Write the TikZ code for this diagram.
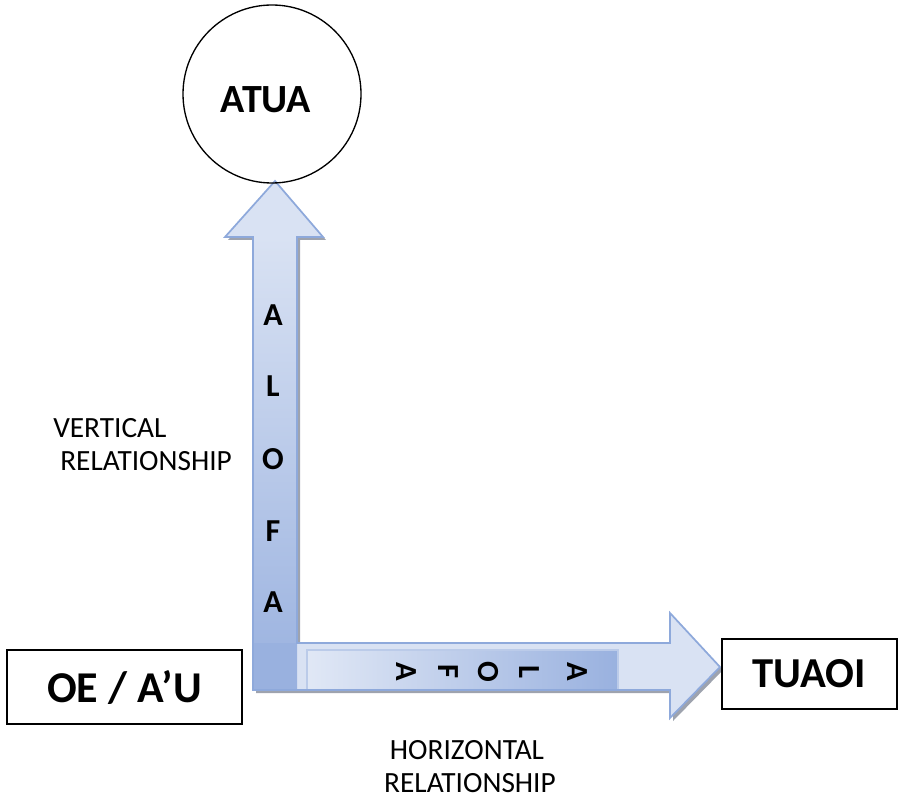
\documentclass[tikz,border=0pt]{standalone}
\usepackage{fontspec}
\setmainfont{Carlito}
\definecolor{arrowfill}{HTML}{D9E2F3}
\definecolor{arrowline}{HTML}{8EA9DB}
\definecolor{arrowdark}{HTML}{99B1DF}
\definecolor{shadowgray}{HTML}{9EA3AE}
\begin{document}
\begin{tikzpicture}[x=0.75pt,y=-0.75pt,
  reltext/.style={font=\fontsize{22}{26}\selectfont, inner sep=0pt, anchor=base west},
  vletter/.style={font=\bfseries\fontsize{24}{28}\selectfont, inner sep=0pt},
  hletter/.style={font=\bfseries\fontsize{23}{27}\selectfont, inner sep=0pt, rotate=-90},
  boxnode/.style={draw=black, line width=1.2pt, inner sep=0pt}]
\useasboundingbox (0,0) rectangle (902,798);
% shadow
\fill[shadowgray, shift={(3,3)}] (275,181) -- (323,237) -- (297,237) -- (297,643) -- (670,643) -- (670,613) -- (720,667) -- (670,718) -- (670,690) -- (253,690) -- (253,237) -- (225,237) -- cycle;
% arrow body
\fill[arrowfill] (275,181) -- (323,237) -- (297,237) -- (297,643) -- (670,643) -- (670,613) -- (720,667) -- (670,718) -- (670,690) -- (253,690) -- (253,237) -- (225,237) -- cycle;
% vertical shaft gradient
\shade[top color=arrowfill, bottom color=arrowdark] (253,237) rectangle (297,690);
% corner
\fill[arrowdark] (253,643) rectangle (297,690);
% inner rectangle on horizontal shaft
\shade[left color=arrowfill!80!white, right color=arrowdark, draw=arrowline!60!white, line width=0.8pt] (307,650) rectangle (618,690);
% outline
\draw[arrowline, line width=1.3pt, line join=miter] (275,181) -- (323,237) -- (297,237) -- (297,643) -- (670,643) -- (670,613) -- (720,667) -- (670,718) -- (670,690) -- (253,690) -- (253,237) -- (225,237) -- cycle;
% circle
\node[circle, draw=black, line width=1pt, minimum size=133.5pt, inner sep=0pt] (atua) at (272,94) {};
\node[font=\bfseries\fontsize{30}{34}\selectfont, inner sep=0pt] (atuatxt) at (266,100) {ATUA};
% vertical letters
\node[vletter] (v1) at (273,315) {A};
\node[vletter] (v2) at (273,386) {L};
\node[vletter] (v3) at (273,459) {O};
\node[vletter] (v4) at (273,531) {F};
\node[vletter] (v5) at (273,602) {A};
% horizontal letters
\node[hletter] (h1) at (406,672) {A};
\node[hletter] (h2) at (448,672) {F};
\node[hletter] (h3) at (488,672) {O};
\node[hletter] (h4) at (529,672) {L};
\node[hletter] (h5) at (577,672) {A};
% relationship texts
\node[reltext] (vert1) at (53,437) {VERTICAL};
\node[reltext] (vert2) at (60,470) {RELATIONSHIP};
\node[reltext, anchor=base] (hor1) at (467,759) {HORIZONTAL};
\node[reltext, anchor=base] (hor2) at (470,792) {RELATIONSHIP};
% boxes
\node[boxnode, minimum width=176.25pt, minimum height=55.5pt, font=\bfseries\fontsize{33}{36}\selectfont] (oeau) at (124.5,687) {OE / A’U};
\node[boxnode, minimum width=131.25pt, minimum height=52.5pt, font=\bfseries\fontsize{32}{35}\selectfont] (tuaoi) at (809.5,674) {TUAOI};
\end{tikzpicture}
\end{document}
